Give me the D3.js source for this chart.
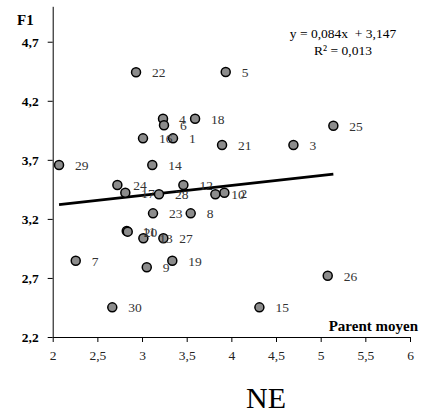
<!DOCTYPE html>
<html>
<head>
<meta charset="utf-8">
<script src="https://cdn.jsdelivr.net/npm/d3@7"></script>
<style>
  html, body { margin: 0; padding: 0; background: #fff; }
  text { font-family: "Liberation Serif", "Times New Roman", Times, "DejaVu Serif", serif; }
</style>
</head>
<body>
<svg id="chart" width="421" height="416"></svg>
<script>
// Genotype numbers, mid-parent value (x) and F1 value (y)
const ids = [1, 2, 3, 4, 5, 6, 7, 8, 9, 10,
             11, 12, 13, 14, 15, 16, 17, 18, 19, 20,
             21, 22, 23, 24, 25, 26, 27, 28, 29, 30];
const parentMoyen = [3.347, 3.922, 4.695, 3.235, 3.937, 3.246, 2.258, 3.545, 3.053, 3.821,
                     2.829, 3.463, 3.015, 3.115, 4.314, 3.011, 2.813, 3.594, 3.339, 2.840,
                     3.896, 2.933, 3.123, 2.724, 5.142, 5.079, 3.239, 3.190, 2.071, 2.667];
const f1 = [3.882, 3.422, 3.826, 4.048, 4.444, 3.993, 2.846, 3.247, 2.790, 3.408,
            3.098, 3.487, 3.036, 3.656, 2.451, 3.882, 3.422, 4.048, 2.846, 3.092,
            3.826, 4.441, 3.247, 3.487, 3.989, 2.719, 3.036, 3.408, 3.656, 2.451];

const xTicks = [2, 2.5, 3, 3.5, 4, 4.5, 5, 5.5, 6];
const yTicks = [2.2, 2.7, 3.2, 3.7, 4.2, 4.7];

// Linear trend reported on the chart
const slope = 0.084, intercept = 3.147;
const equationText = "y = 0,084x  + 3,147";
const r2Text = "R² = 0,013";

const svg = d3.select("#chart");
const x = d3.scaleLinear().domain([2, 6]).range([52.7, 410]);
const y = d3.scaleLinear().domain([2.2, 5.0]).range([337, 6.3]);
const fmt = v => d3.format("")(v).replace(".", ",");

// X axis
const xAxis = svg.append("g")
  .attr("transform", `translate(0,${y(2.2)})`)
  .call(d3.axisBottom(x).tickValues(xTicks).tickFormat(fmt).tickSize(5).tickSizeOuter(0));
xAxis.attr("font-family", null);
xAxis.select(".domain").attr("stroke", "#000");
xAxis.selectAll(".tick line").attr("stroke", "#000");
xAxis.selectAll(".tick text")
  .attr("font-size", 13.5).attr("fill", "#222").attr("dy", "1.1em");

// Y axis
const yAxis = svg.append("g")
  .attr("transform", `translate(${x(2)},0)`)
  .call(d3.axisLeft(y).tickValues(yTicks).tickFormat(fmt).tickSize(5).tickSizeOuter(0));
yAxis.attr("font-family", null);
yAxis.select(".domain").attr("stroke", "#000");
yAxis.selectAll(".tick line").attr("stroke", "#000");
yAxis.selectAll(".tick text")
  .attr("font-size", 13.5).attr("font-weight", "bold").attr("fill", "#000")
  .attr("x", -14).attr("dy", "0.35em");

// Trend line across the observed x range
const xMin = d3.min(parentMoyen), xMax = d3.max(parentMoyen);
svg.append("line")
  .attr("x1", x(xMin)).attr("y1", y(slope * xMin + intercept))
  .attr("x2", x(xMax)).attr("y2", y(slope * xMax + intercept))
  .attr("stroke", "#000").attr("stroke-width", 2.6);

// Points
const pts = ids.map((id, i) => ({ id, px: parentMoyen[i], f: f1[i] }));
svg.append("g").selectAll("circle").data(pts).join("circle")
  .attr("cx", d => x(d.px)).attr("cy", d => y(d.f)).attr("r", 4.5)
  .attr("fill", "#8c8c8c").attr("stroke", "#000").attr("stroke-width", 1.5);

// Point labels
svg.append("g").selectAll("text").data(pts).join("text")
  .attr("x", d => x(d.px) + 16).attr("y", d => y(d.f) + 5)
  .attr("font-size", 13.5).attr("fill", "#333")
  .text(d => d.id);

// Regression equation
svg.append("text").attr("x", 343).attr("y", 38).attr("text-anchor", "middle")
  .attr("font-size", 13.5).attr("fill", "#000").style("white-space", "pre").text(equationText);
svg.append("text").attr("x", 343).attr("y", 55).attr("text-anchor", "middle")
  .attr("font-size", 13.5).attr("fill", "#000").text(r2Text);

// Axis titles
svg.append("text").attr("x", 17).attr("y", 25)
  .attr("font-size", 15).attr("font-weight", "bold").text("F1");
svg.append("text").attr("x", 418).attr("y", 331).attr("text-anchor", "end")
  .attr("font-size", 15).attr("font-weight", "bold").text("Parent moyen");
svg.append("text").attr("x", 266).attr("y", 408).attr("text-anchor", "middle")
  .attr("font-size", 30).text("NE");
</script>
</body>
</html>
